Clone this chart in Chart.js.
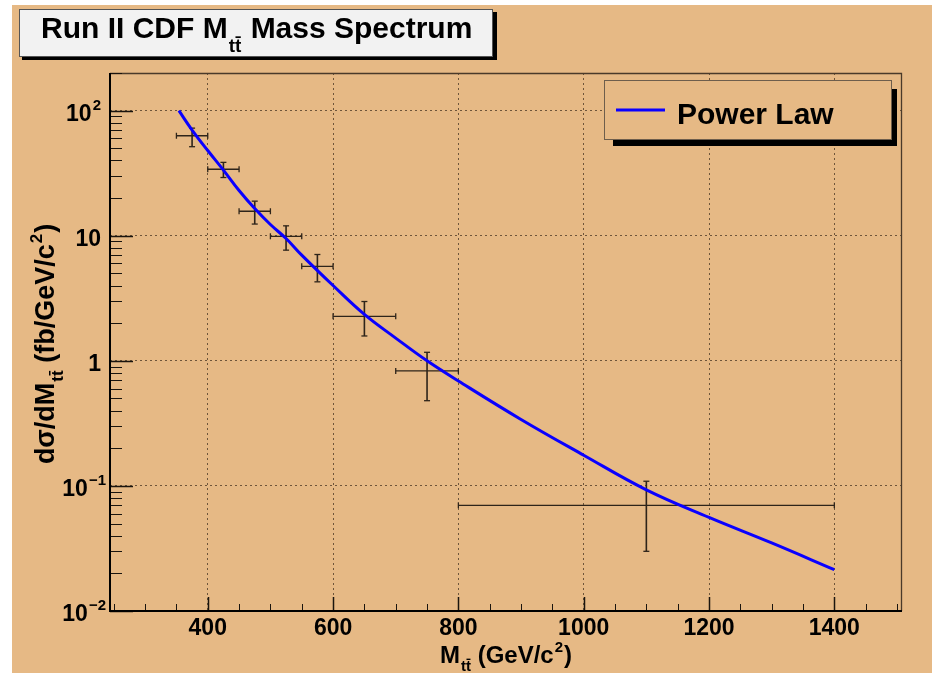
<!DOCTYPE html>
<html><head><meta charset="utf-8">
<script src="https://cdn.jsdelivr.net/npm/chart.js@4.4.1/dist/chart.umd.min.js"></script>
<style>html,body{margin:0;padding:0;background:#fff;overflow:hidden}#wrap{width:932px;height:673px;position:relative}</style>
</head><body><div id="wrap"><canvas id="c" width="932" height="673"></canvas></div>
<script>
// ---- data ----
const binCenters = [375, 425, 475, 525, 575, 650, 750, 1100];
const binLow     = [350, 400, 450, 500, 550, 600, 700, 800];
const binHigh    = [400, 450, 500, 550, 600, 700, 800, 1400];
const xsec       = [63, 34, 15.7, 9.9, 5.7, 2.27, 0.83, 0.070];
const errUp      = [72.5, 38.6, 18.9, 12.0, 7.08, 2.98, 1.17, 0.109];
const errDown    = [51.5, 29.2, 12.4, 7.67, 4.28, 1.58, 0.48, 0.030];
const fitMass    = [354, 375, 400, 425, 450, 475, 500, 525, 550, 600, 650, 700, 750, 800, 900, 1000, 1100, 1200, 1300, 1400];
const fitValue   = [100, 70, 48, 33.5, 23, 16.5, 12.3, 9.5, 7.0, 4.0, 2.35, 1.52, 1.0, 0.69, 0.34, 0.176, 0.093, 0.056, 0.035, 0.0214];
const xTickValues = [400, 600, 800, 1000, 1200, 1400];
const yTickValues = [0.01, 0.1, 1, 10, 100];
const yTickExponents = [-2, -1, 0, 1, 2];
const legendLabels = ['Power Law'];

const BG = 'rgb(230,185,133)';
const FONT = '"Liberation Sans", Arial, Helvetica, sans-serif';
const ERR = '#2e241a';
const GRID = 'rgba(70,52,34,0.75)';

const hSeg = [], vSeg = [];
binCenters.forEach((c, i) => {
  hSeg.push({x: binLow[i], y: xsec[i]}, {x: binHigh[i], y: xsec[i]}, {x: binHigh[i], y: null});
  vSeg.push({x: c, y: errDown[i]}, {x: c, y: errUp[i]}, {x: c, y: null});
});

function drawTT(ctx, x, base, size) {
  ctx.font = 'bold ' + size + 'px ' + FONT;
  ctx.textAlign = 'left';
  const wt = ctx.measureText('t').width;
  ctx.fillText('tt', x, base);
  const top = base - size * 0.78;
  ctx.save();
  ctx.lineWidth = Math.max(1, size * 0.09);
  ctx.beginPath();
  ctx.moveTo(x + wt + 0.5, top);
  ctx.lineTo(x + 2 * wt - 0.5, top);
  ctx.stroke();
  ctx.restore();
  return ctx.measureText('tt').width;
}

function drawRich(ctx, parts, x, base) {
  let cx = x;
  for (const p of parts) {
    if (p.tt) { cx += drawTT(ctx, cx + (p.dx || 0), base + p.dy, p.size) + (p.dx || 0) + (p.after || 0); continue; }
    ctx.font = 'bold ' + p.size + 'px ' + FONT;
    ctx.textAlign = 'left';
    ctx.fillText(p.t, cx + (p.dx || 0), base + (p.dy || 0));
    cx += ctx.measureText(p.t).width + (p.dx || 0);
  }
  return cx - x;
}
function measureRich(ctx, parts) {
  let w = 0;
  for (const p of parts) {
    ctx.font = 'bold ' + p.size + 'px ' + FONT;
    w += ctx.measureText(p.tt ? 'tt' : p.t).width + (p.dx || 0) + (p.after || 0);
  }
  return w;
}

const rootPlugin = {
  id: 'rootStyle',
  beforeDraw(chart) {
    const ctx = chart.ctx;
    ctx.save();
    ctx.fillStyle = '#fff';
    ctx.fillRect(0, 0, chart.width, chart.height);
    ctx.fillStyle = BG;
    ctx.fillRect(12, 5, chart.width - 12, chart.height - 5);
    ctx.restore();
  },
  afterDraw(chart) {
    const ctx = chart.ctx;
    const a = chart.chartArea;
    const xs = chart.scales.x, ys = chart.scales.y;
    ctx.save();
    // frame top / right
    ctx.strokeStyle = '#4a3a2a';
    ctx.lineWidth = 1.3;
    ctx.beginPath();
    ctx.moveTo(a.left, a.top + 0.5); ctx.lineTo(a.right - 0.5, a.top + 0.5); ctx.lineTo(a.right - 0.5, a.bottom);
    ctx.stroke();
    // y ticks
    ctx.strokeStyle = '#1a140e';
    for (let d = 0.01; d <= 100.5; d *= 10) {
      for (let k = 1; k <= 9; k++) {
        const v = k * d;
        if (v > ys.max * 1.0001) continue;
        const py = Math.round(ys.getPixelForValue(v)) + 0.5;
        const len = k === 1 ? 23 : 12;
        ctx.lineWidth = k === 1 ? 1.5 : 1;
        ctx.beginPath(); ctx.moveTo(a.left, py); ctx.lineTo(a.left + len, py); ctx.stroke();
      }
    }
    // x ticks
    for (let v = 250; v <= xs.max; v += 50) {
      const px = Math.round(xs.getPixelForValue(v)) + 0.5;
      const major = xTickValues.includes(v);
      ctx.lineWidth = major ? 1.5 : 1;
      ctx.beginPath(); ctx.moveTo(px, a.bottom); ctx.lineTo(px, a.bottom - (major ? 14 : 7)); ctx.stroke();
    }
    // axes left / bottom
    ctx.strokeStyle = '#000';
    ctx.lineWidth = 2;
    ctx.beginPath();
    ctx.moveTo(a.left, a.top); ctx.lineTo(a.left, a.bottom); ctx.lineTo(a.right, a.bottom);
    ctx.stroke();

    ctx.fillStyle = '#000';
    ctx.strokeStyle = '#000';
    ctx.textBaseline = 'alphabetic';
    // y tick labels
    yTickValues.forEach((v, i) => {
      const py = ys.getPixelForValue(v);
      const e = yTickExponents[i];
      const base = py + 10;
      const right = 101;
      if (e === 0 || e === 1) {
        ctx.font = 'bold 23px ' + FONT; ctx.textAlign = 'right';
        ctx.fillText(e === 0 ? '1' : '10', right, base);
      } else {
        const sup = e < 0 ? '\u2212' + (-e) : String(e);
        ctx.font = 'bold 15px ' + FONT;
        const ws = ctx.measureText(sup).width;
        ctx.textAlign = 'left';
        ctx.fillText(sup, right + (e < 0 ? 4 : -1) - ws + 1, base - 11);
        ctx.font = 'bold 23px ' + FONT; ctx.textAlign = 'right';
        ctx.fillText('10', right + (e < 0 ? 4 : -1) - ws, base);
      }
    });

    // x axis title
    const xParts = [
      {t: 'M', size: 24},
      {tt: true, size: 15, dy: 8, dx: 1, after: 0},
      {t: ' (GeV/c', size: 24},
      {t: '2', size: 15, dy: -11, dx: 1},
      {t: ')', size: 24, dx: 1}
    ];
    const wx = measureRich(ctx, xParts);
    drawRich(ctx, xParts, (a.left + a.right) / 2 - wx / 2, 663);

    // y axis title
    const yParts = [
      {t: 'd\u03c3/dM', size: 27},
      {tt: true, size: 17, dy: 9, dx: 1},
      {t: ' (fb/GeV/c', size: 27},
      {t: '2', size: 17, dy: -12, dx: 1},
      {t: ')', size: 27, dx: 1}
    ];
    const wy = measureRich(ctx, yParts);
    ctx.save();
    ctx.translate(54, 344);
    ctx.rotate(-Math.PI / 2);
    drawRich(ctx, yParts, -wy / 2, 0);
    ctx.restore();

    // title box
    ctx.fillStyle = '#000';
    ctx.fillRect(22, 12, 475, 48);
    ctx.fillStyle = '#f2f2f2';
    ctx.fillRect(19, 9, 474, 48);
    ctx.strokeStyle = '#555';
    ctx.lineWidth = 1;
    ctx.strokeRect(19.5, 9.5, 473, 47);
    ctx.fillStyle = '#000'; ctx.strokeStyle = '#000';
    drawRich(ctx, [
      {t: 'Run II CDF M', size: 30},
      {tt: true, size: 19, dy: 14, dx: 1},
      {t: ' Mass Spectrum', size: 30, dx: 1}
    ], 41, 38);

    // legend box
    ctx.fillStyle = '#000';
    ctx.fillRect(613, 89, 284, 57);
    ctx.fillStyle = BG;
    ctx.fillRect(604, 80, 288, 60);
    ctx.strokeStyle = '#6e5e4c';
    ctx.lineWidth = 1;
    ctx.strokeRect(604.5, 80.5, 287, 59);
    const ds = chart.data.datasets[0];
    ctx.strokeStyle = ds.borderColor;
    ctx.lineWidth = 3;
    ctx.beginPath(); ctx.moveTo(616, 110); ctx.lineTo(665, 110); ctx.stroke();
    ctx.fillStyle = '#000';
    ctx.font = 'bold 30px ' + FONT; ctx.textAlign = 'left';
    ctx.fillText(legendLabels[0], 677, 124);
    ctx.restore();
  }
};

new Chart(document.getElementById('c'), {
  type: 'line',
  data: {
    datasets: [
      {label: legendLabels[0], data: fitMass.map((m, i) => ({x: m, y: fitValue[i]})),
       borderColor: '#0a00ff', borderWidth: 3, pointRadius: 0, tension: 0.4, fill: false, order: 0},
      {label: 'x errors', data: hSeg, borderColor: ERR, borderWidth: 1.3, spanGaps: false,
       pointStyle: 'line', rotation: 90, pointRadius: 3, pointBorderWidth: 1.3, pointBorderColor: ERR, pointBackgroundColor: ERR, tension: 0, order: 1},
      {label: 'y errors', data: vSeg, borderColor: ERR, borderWidth: 1.6, spanGaps: false,
       pointStyle: 'line', rotation: 0, pointRadius: 3, pointBorderWidth: 1.3, pointBorderColor: ERR, pointBackgroundColor: ERR, tension: 0, order: 1}
    ]
  },
  options: {
    animation: false, responsive: false, devicePixelRatio: 1,
    layout: {padding: {left: 0, right: 30, top: 73, bottom: 0}},
    plugins: {legend: {display: false}, tooltip: {enabled: false}, title: {display: false}},
    scales: {
      x: {
        type: 'linear', min: 244, max: 1508,
        afterFit(s) { s.height = 62; },
        afterBuildTicks(s) { s.ticks = xTickValues.map(v => ({value: v})); },
        ticks: {font: {family: FONT, size: 23, weight: 'bold'}, color: '#000', padding: 4, maxRotation: 0, autoSkip: false,
                callback: v => String(v)},
        grid: {color: GRID, lineWidth: 1, drawTicks: false},
        border: {display: false, dash: [2, 3]}
      },
      y: {
        type: 'logarithmic', min: 0.01, max: 200,
        afterFit(s) { s.width = 110; },
        afterBuildTicks(s) { s.ticks = yTickValues.map(v => ({value: v})); },
        ticks: {display: false},
        grid: {color: GRID, lineWidth: 1, drawTicks: false},
        border: {display: false, dash: [2, 3]}
      }
    }
  },
  plugins: [rootPlugin]
});
</script>
</body></html>
